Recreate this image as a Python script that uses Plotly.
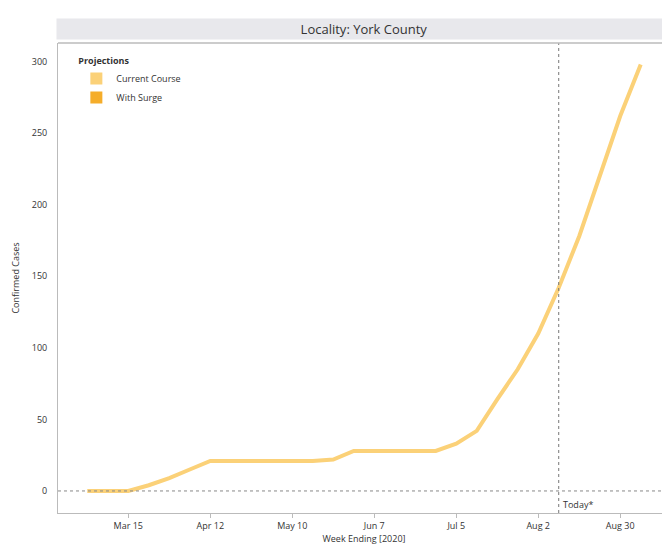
import plotly.graph_objects as go
import pandas as pd

weeks = pd.date_range("2020-03-01", "2020-09-06", freq="7D")
cases = [0, 0, 0, 4, 9, 15, 21, 21, 21, 21, 21, 21, 22, 28, 28, 28, 28, 28,
         33, 42, 64, 85, 110, 142, 178, 220, 262, 298]
tick_dates = ["2020-03-15", "2020-04-12", "2020-05-10", "2020-06-07", "2020-07-05", "2020-08-02", "2020-08-30"]
tick_labels = ["Mar 15", "Apr 12", "May 10", "Jun 7", "Jul 5", "Aug 2", "Aug 30"]
today = "2020-08-09"
c_course = "#fbd178"
c_surge = "#f5ad2a"

fig = go.Figure()
fig.add_trace(go.Scatter(x=weeks, y=cases, mode="lines", line=dict(color=c_course, width=4),
                         showlegend=False))
for name, col in [("Current Course", c_course), ("With Surge", c_surge)]:
    fig.add_trace(go.Scatter(x=[None], y=[None], mode="markers", name=name,
                             marker=dict(symbol="square", size=15, color=col)))

fig.add_vline(x=today, line=dict(color="#777", width=1, dash="dot"))
fig.add_hline(y=0, line=dict(color="#888", width=1, dash="dot"))
fig.add_annotation(x=today, y=0, yref="paper", text="Today*", showarrow=False,
                   xanchor="left", yanchor="bottom", xshift=2, yshift=0, font=dict(size=9, color="#333"))

fig.update_layout(
    width=670, height=550, paper_bgcolor="white", plot_bgcolor="white",
    margin=dict(l=50, r=8, t=35, b=45),
    font=dict(family="Open Sans, DejaVu Sans", size=9, color="#333"),
    legend=dict(x=0.03, y=0.98, xanchor="left", yanchor="top", bgcolor="rgba(0,0,0,0)",
                title=dict(text="<b>Projections</b>", side="top", font=dict(size=9)), font=dict(size=9),
                itemsizing="constant"),
    xaxis=dict(range=["2020-02-20", "2020-09-16"], tickvals=tick_dates, ticktext=tick_labels,
               showgrid=False, zeroline=False, showline=True, linecolor="#bbb", mirror=False,
               ticks="outside", ticklen=4, tickcolor="#bbb", automargin=False,
               title=dict(text="Week Ending [2020]", standoff=4, font=dict(size=9))),
    yaxis=dict(range=[-15.4, 313], tickvals=[0, 50, 100, 150, 200, 250, 300],
               showgrid=False, zeroline=False, showline=True, linecolor="#bbb", automargin=False,
               ticks="", ticklabelstandoff=8, title=dict(text="Confirmed Cases", standoff=10, font=dict(size=9))),
)
fig.add_shape(type="rect", xref="paper", yref="paper", x0=0, x1=1, y0=1, y1=1, line=dict(color="#bbb", width=1))
fig.add_shape(type="rect", xref="paper", yref="paper", x0=1, x1=1, y0=0, y1=1, line=dict(color="#bbb", width=1))
fig.add_annotation(xref="paper", yref="paper", x=0.5, y=1.0, yanchor="bottom", yshift=3,
                   text="Locality: York County", showarrow=False, font=dict(size=13, color="#333"),
                   bgcolor="#e8e8ec", width=612, height=18)
fig.write_html("out.html")
